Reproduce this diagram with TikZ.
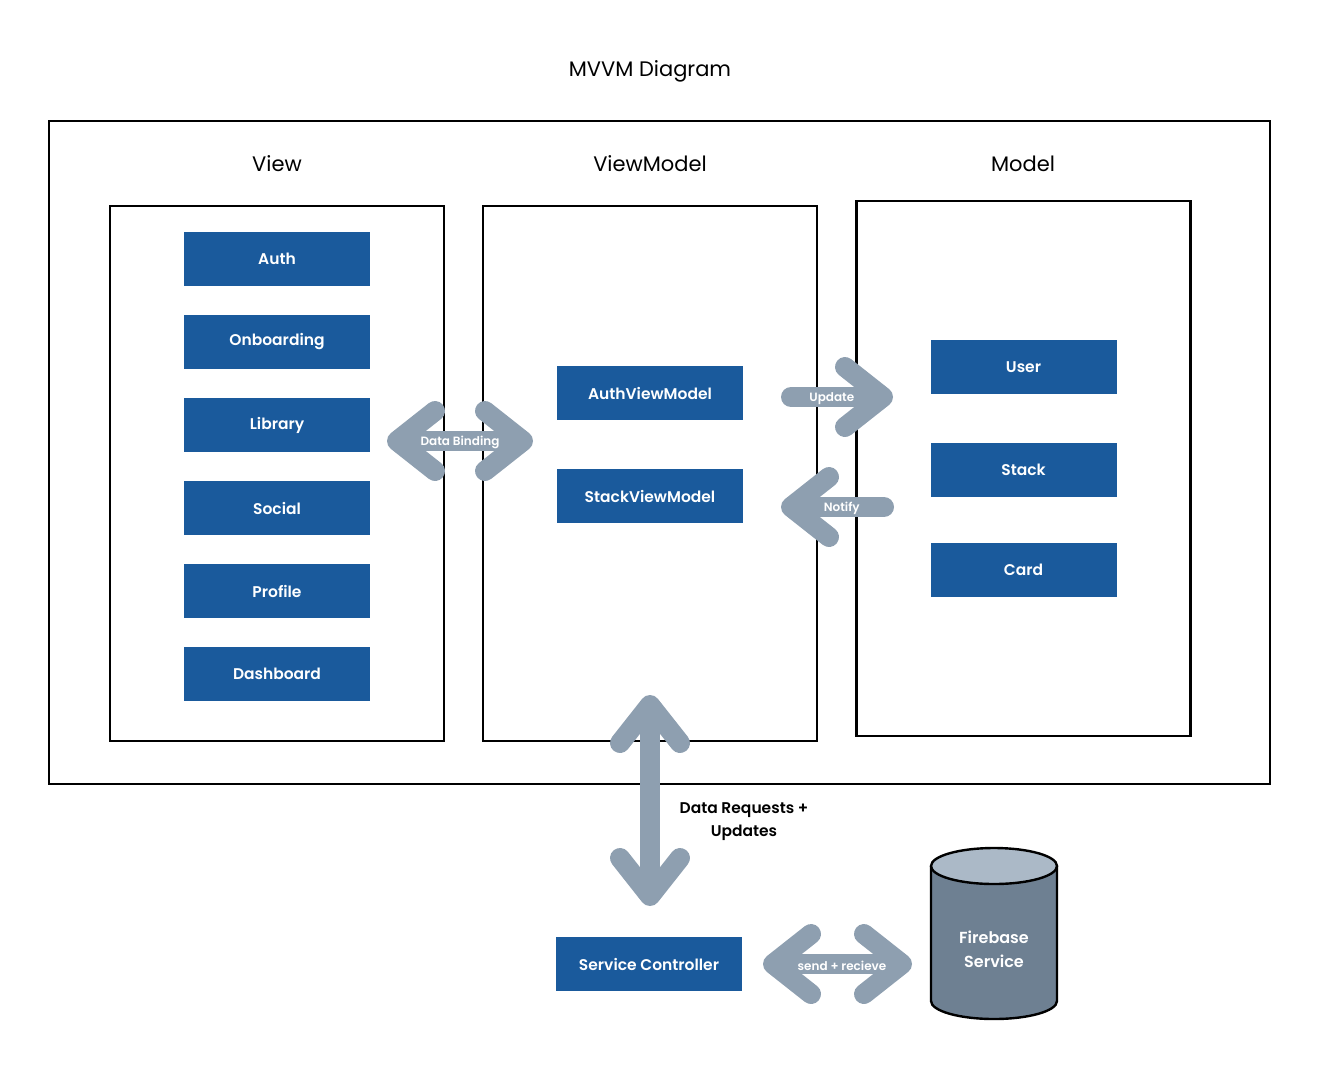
\documentclass[tikz,border=0pt]{standalone}
\usepackage{fontspec}
\setmainfont{Poppins}[BoldFont=Poppins SemiBold]
\usetikzlibrary{arrows.meta}

\definecolor{compblue}{HTML}{1A5A9C}
\definecolor{arrowgray}{HTML}{8E9FB0}
\definecolor{dbbody}{HTML}{6E8092}
\definecolor{dbtop}{HTML}{ABB9C7}

\tikzset{
  comp/.style={fill=compblue, text=white, font=\bfseries\fontsize{15.5}{18}\selectfont,
    minimum width=186pt, minimum height=54pt, inner sep=0pt},
  layer/.style={draw, line width=2.4pt, minimum width=334pt, minimum height=535pt, inner sep=0pt},
  heading/.style={font=\fontsize{21}{25}\selectfont},
  barb/.tip={Straight Barb[length=38pt, width=60pt, line cap=round, line join=round]},
  bigarrow/.style={arrowgray, line width=20pt, line cap=round},
  arrowtext/.style={text=white, font=\bfseries\fontsize{12}{14}\selectfont, inner sep=1pt, yshift=-1.5pt}
}

\begin{document}
\begin{tikzpicture}[x=1pt, y=-1pt]
    \useasboundingbox (0,0) rectangle (1330,1080);

    \node[heading] (title) at (650,71.5) {MVVM Diagram};
    \draw[line width=2.4pt] (49,121) rectangle (1270,784);

    % the three layers
    \node[heading] (viewhead) at (277,164) {View};
    \node[heading] (vmhead) at (650,164) {ViewModel};
    \node[heading] (modelhead) at (1023,164) {Model};

    \node[layer] (view) at (277,473.5) {};
    \node[layer] (vm) at (650,473.5) {};
    \node[layer] (model) at (1023.5,468.5) {};

    \foreach \name/\txt [count=\i from 0] in {auth/Auth, onboard/Onboarding, library/Library,
        social/Social, profile/Profile, dash/Dashboard}
        \node[comp] (\name) at (277,259+83*\i) {\txt};

    \node[comp] (authvm) at (650,393) {AuthViewModel};
    \node[comp] (stackvm) at (650,496) {StackViewModel};

    \node[comp] (user) at (1023.5,367) {User};
    \node[comp] (stack) at (1023.5,470) {Stack};
    \node[comp] (card) at (1023.5,570) {Card};

    % services
    \node[comp] (service) at (649,964) {Service Controller};

    \fill[dbbody] (931,866) rectangle (1057,1001);
    \fill[dbbody] (994,1001) ellipse[x radius=63, y radius=18];
    \draw[line width=2.4pt] (931,866) -- (931,1001)
        arc[start angle=180, end angle=0, x radius=63, y radius=18] -- (1057,866);
    \draw[line width=2.4pt, fill=dbtop] (994,866) ellipse[x radius=63, y radius=18];
    \node[text=white, font=\bfseries\fontsize{16}{24}\selectfont, align=center] (firebase)
        at (994,949) {Firebase\\Service};

    % arrows
    \coordinate (db-w) at (387,441);
    \coordinate (db-e) at (533,441);
    \draw[bigarrow, barb-barb] (db-w) -- (db-e) node[midway, arrowtext] {Data Binding};

    \coordinate (up-s) at (791,397);
    \coordinate (up-e) at (893,397);
    \draw[bigarrow, -barb] (up-s) -- (up-e) node[pos=0.4, arrowtext] {Update};

    \coordinate (nt-s) at (884,507);
    \coordinate (nt-e) at (781,507);
    \draw[bigarrow, -barb] (nt-s) -- (nt-e) node[pos=0.41, arrowtext] {Notify};

    \coordinate (dr-n) at (650,695);
    \coordinate (dr-s) at (650,906);
    \draw[bigarrow, barb-barb] (dr-n) -- (dr-s);
    \node[font=\bfseries\fontsize{15.5}{23}\selectfont, align=center] (drtext) at (744,822)
        {Data Requests +\\Updates};

    \coordinate (sr-w) at (763,964);
    \coordinate (sr-e) at (912,964);
    \draw[bigarrow, barb-barb] (sr-w) -- (sr-e) node[pos=0.53, arrowtext] {send + recieve};
\end{tikzpicture}
\end{document}
